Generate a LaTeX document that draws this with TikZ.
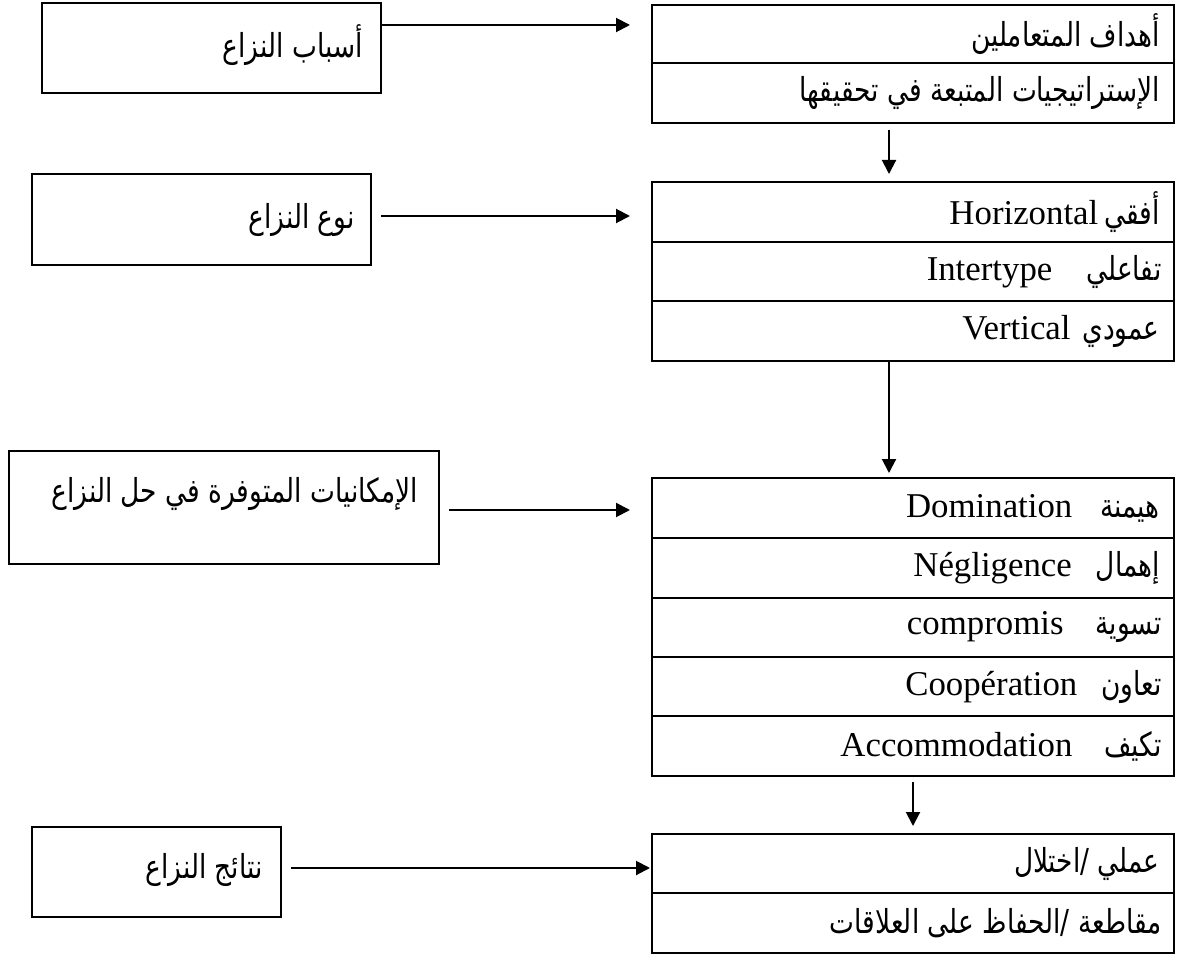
\documentclass[tikz,border=0pt]{standalone}
\usepackage{fontspec}
\setmainfont{Liberation Serif}
\newfontfamily\arabicfont[Script=Arabic, FakeStretch=0.8]{DejaVu Sans}
\TeXXeTstate=1
\usetikzlibrary{arrows.meta}

% Arabic text, set right to left
\newcommand{\artext}[1]{{\arabicfont\fontsize{16.5}{19}\selectfont\beginR #1\endR}}
% Arabic term followed (to its left) by its Latin equivalent
\newcommand{\pairtext}[3]{\beginR{\arabicfont\fontsize{16.5}{19}\selectfont #1}\hspace{#2}\beginL{\fontsize{17.4}{20}\selectfont #3}\endL\endR}

\tikzset{
  leftbox/.style={draw, line width=1pt, inner sep=0pt, outer sep=0pt},
  rowbox/.style={draw, line width=1.1pt, inner sep=0pt, outer sep=0pt,
                 minimum width=261pt},
  label/.style={inner sep=0pt, anchor=east},
  conn/.style={line width=1pt, -{Triangle[length=7pt, width=7pt]}},
}

\begin{document}
\begin{tikzpicture}[x=0.5pt, y=-0.5pt]
\useasboundingbox (0,0) rectangle (1178,957);

% ---- left column: the four headings ----
\node[leftbox, minimum width=169.5pt, minimum height=45pt]   (l1) at (211.5,48)  {};
\node[leftbox, minimum width=169.5pt, minimum height=45.5pt] (l2) at (201.5,219.5) {};
\node[leftbox, minimum width=215pt,   minimum height=56.5pt] (l3) at (224,507.5) {};
\node[leftbox, minimum width=124.5pt, minimum height=45pt]   (l4) at (156.5,872) {};

\node[label] (l1t) at ([xshift=-9pt, yshift=1.5pt]l1.east)  {\artext{أسباب النزاع}};
\node[label] (l2t) at ([xshift=-8pt]l2.east)                {\artext{نوع النزاع}};
\node[label] (l3t) at ([xshift=-10.5pt, yshift=7pt]l3.east) {\artext{الإمكانيات المتوفرة في حل النزاع}};
\node[label] (l4t) at ([xshift=-9pt, yshift=1pt]l4.east)    {\artext{نتائج النزاع}};

% ---- right column: stacked rows ----
\node[rowbox, minimum height=29pt]   (r1a) at (913,34)    {};
\node[rowbox, minimum height=30pt]   (r1b) at (913,93)    {};

\node[rowbox, minimum height=30pt]   (r2a) at (913,212)   {};
\node[rowbox, minimum height=29.5pt] (r2b) at (913,271.5) {};
\node[rowbox, minimum height=30pt]   (r2c) at (913,331)   {};

\node[rowbox, minimum height=30pt]   (r3a) at (913,508)   {};
\node[rowbox, minimum height=30pt]   (r3b) at (913,568)   {};
\node[rowbox, minimum height=29.5pt] (r3c) at (913,627.5) {};
\node[rowbox, minimum height=29.5pt] (r3d) at (913,686.5) {};
\node[rowbox, minimum height=30pt]   (r3e) at (913,746)   {};

\node[rowbox, minimum height=29.5pt] (r4a) at (913,863.5) {};
\node[rowbox, minimum height=30pt]   (r4b) at (913,923)   {};

\node[label] (r1at) at ([xshift=-7pt]r1a.east) {\artext{أهداف المتعاملين}};
\node[label] (r1bt) at ([xshift=-7pt]r1b.east) {\artext{الإستراتيجيات المتبعة في تحقيقها}};

\node[label] (r2at) at ([xshift=-7pt]r2a.east) {\pairtext{أفقي}{3pt}{Horizontal}};
\node[label] (r2bt) at ([xshift=-6pt]r2b.east) {\pairtext{تفاعلي}{17pt}{Intertype}};
\node[label] (r2ct) at ([xshift=-7pt]r2c.east) {\pairtext{عمودي}{6pt}{Vertical}};

\node[label] (r3at) at ([xshift=-7pt]r3a.east) {\pairtext{هيمنة}{14pt}{Domination}};
\node[label] (r3bt) at ([xshift=-7pt]r3b.east) {\pairtext{إهمال}{12pt}{Négligence}};
\node[label] (r3ct) at ([xshift=-6pt]r3c.east) {\pairtext{تسوية}{16pt}{compromis}};
\node[label] (r3dt) at ([xshift=-6pt]r3d.east) {\pairtext{تعاون}{12pt}{Coopération}};
\node[label] (r3et) at ([xshift=-6pt]r3e.east) {\pairtext{تكيف}{16pt}{Accommodation}};

\node[label] (r4at) at ([xshift=-7pt]r4a.east) {\artext{عملي /اختلال}};
\node[label] (r4bt) at ([xshift=-6pt]r4b.east) {\artext{مقاطعة /الحفاظ على العلاقات}};

% ---- connectors from the headings to their rows ----
\draw[conn, shorten >=11pt]              (l1.east |- 0,25)  -- (r1a.west |- 0,25);
\draw[conn, shorten <=5pt, shorten >=11pt] (l2.east |- 0,216) -- (r2a.west |- 0,216);
\draw[conn, shorten <=5pt, shorten >=11pt] (l3.east |- 0,510) -- (r3a.west |- 0,510);
\draw[conn, shorten <=5pt, shorten >=1pt]  (l4.east |- 0,868) -- (r4a.west |- 0,868);

% ---- connectors down the right column ----
\draw[conn, shorten <=3.5pt, shorten >=4pt] (r1b.south -| 889,0) -- (r2a.north -| 889,0);
\draw[conn, shorten >=2.5pt]                 (r2c.south -| 889,0) -- (r3a.north -| 889,0);
\draw[conn, shorten <=3pt, shorten >=4pt]    (r3e.south) -- (r4a.north);
\end{tikzpicture}
\end{document}
